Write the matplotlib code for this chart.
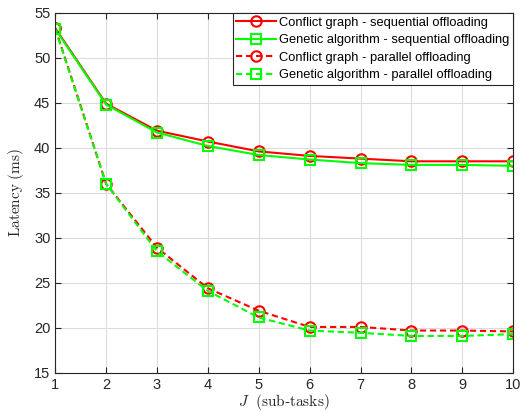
import numpy as np
import matplotlib
matplotlib.use("Agg")
import matplotlib.pyplot as plt

plt.rcParams["font.family"] = ["Liberation Sans", "DejaVu Sans"]
plt.rcParams["mathtext.fontset"] = "cm"

J = [1, 2, 3, 4, 5, 6, 7, 8, 9, 10]
cg_seq = [53.3, 44.9, 41.9, 40.7, 39.6, 39.1, 38.8, 38.5, 38.5, 38.5]
ga_seq = [53.2, 44.8, 41.7, 40.2, 39.2, 38.7, 38.3, 38.1, 38.1, 38.0]
cg_par = [53.3, 36.0, 28.9, 24.4, 21.9, 20.1, 20.1, 19.7, 19.7, 19.6]
ga_par = [53.2, 36.0, 28.5, 24.1, 21.15, 19.7, 19.45, 19.1, 19.1, 19.3]

labels = [
    "Conflict graph - sequential offloading",
    "Genetic algorithm - sequential offloading",
    "Conflict graph - parallel offloading",
    "Genetic algorithm - parallel offloading",
]

fig = plt.figure(figsize=(5.21, 4.12), dpi=100)
ax = fig.add_axes([0.106, 0.095, 0.879, 0.874])

dash = (0, (3, 1.8))
ax.plot(J, cg_seq, color="#ff0000", lw=1.5, marker="o", ms=7.5, mfc="none", mew=1.5, label=labels[0])
ax.plot(J, ga_seq, color="#00ff00", lw=1.5, marker="s", ms=6.5, mfc="none", mew=1.5, label=labels[1])
ax.plot(J, cg_par, color="#ff0000", lw=1.5, ls=dash, marker="o", ms=7.5, mfc="none", mew=1.5, label=labels[2])
ax.plot(J, ga_par, color="#00ff00", lw=1.5, ls=dash, marker="s", ms=6.5, mfc="none", mew=1.5, label=labels[3])

ax.set_xlim(1, 10)
ax.set_ylim(15, 55)
ax.set_xticks(J)
ax.set_yticks(np.arange(15, 56, 5))
ax.grid(True, color="#dcdcdc", lw=0.8)
ax.set_axisbelow(True)
ax.tick_params(direction="in", top=True, right=True, labelsize=10.5, colors="#262626", length=4)
for s in ax.spines.values():
    s.set_color("#262626")
    s.set_linewidth(0.8)

ax.set_ylabel(r"$\mathrm{Latency\ (ms)}$", fontsize=11, color="#262626", labelpad=6)
ax.set_xlabel(r"$J\ \ \mathrm{(sub}$-$\mathrm{tasks)}$", fontsize=11, color="#262626", labelpad=0)

leg = ax.legend(loc="upper right", fontsize=9.3, fancybox=False, framealpha=1,
                edgecolor="#262626", borderaxespad=0, handlelength=3.1,
                handletextpad=0.2, labelspacing=0.42, borderpad=0.3)
leg.get_frame().set_linewidth(0.8)

fig.savefig("out.png", dpi=100)
